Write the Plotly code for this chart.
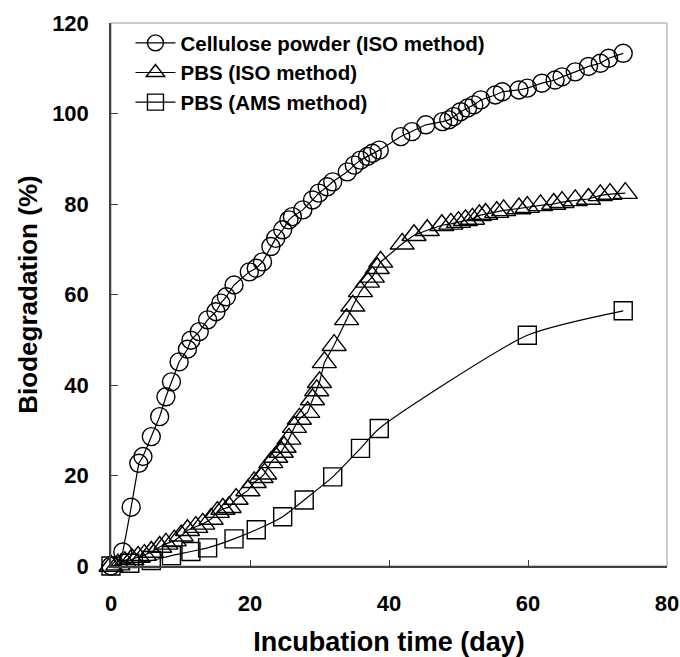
import plotly.graph_objects as go

# Cellulose powder (ISO method)
cel_x = [0, 1.7, 2.9, 4.0, 4.6, 5.8, 7.0, 7.9, 8.7, 9.8, 11.0, 11.5, 12.7, 13.9, 15.1, 15.8, 16.6, 17.7,
         19.9, 20.9, 21.8, 23.0, 23.7, 24.7, 25.6, 26.1, 27.6, 29.0, 29.9, 31.1, 31.9, 34.0, 35.0, 35.9,
         36.9, 37.6, 38.6, 41.7, 43.3, 45.3, 47.7, 48.6, 49.3, 50.3, 51.3, 52.2, 53.2, 55.3, 56.3, 58.7,
         59.9, 62.0, 63.9, 64.9, 66.8, 68.7, 70.4, 71.6, 73.7]
cel_y = [0, 3.1, 13.0, 22.7, 24.2, 28.6, 33.0, 37.4, 40.7, 45.1, 47.9, 49.9, 51.8, 54.4, 56.2, 58.1, 59.5, 62.1,
         65.0, 65.8, 67.2, 70.6, 72.4, 74.3, 76.5, 77.2, 78.7, 80.9, 82.4, 83.8, 84.9, 87.1, 88.6, 89.7,
         90.5, 91.2, 91.9, 94.9, 96.0, 97.5, 98.2, 98.6, 99.3, 100.4, 101.2, 101.9, 103.0, 104.1, 104.8, 105.2,
         105.6, 106.7, 107.4, 108.1, 109.2, 110.4, 111.1, 112.2, 113.3]

# PBS (ISO method)
iso_x = [0, 1.0, 2.0, 3.0, 3.9, 4.8, 5.8, 7.0, 7.9, 9.1, 10.1, 11.0, 12.2, 13.2, 14.4, 15.3, 16.1, 17.0,
         18.0, 19.7, 20.6, 21.6, 22.1, 23.0, 23.7, 24.5, 24.9, 25.6, 26.4, 27.1, 28.3, 29.0, 29.6, 30.0,
         30.7, 32.1, 33.9, 34.8, 35.9, 36.9, 37.6, 38.3, 38.8, 41.9, 43.6, 45.5, 47.6, 48.9, 50.0, 51.0,
         52.0, 53.0, 53.9, 55.5, 56.5, 58.7, 59.9, 61.8, 63.7, 64.9, 66.8, 68.7, 70.4, 71.8, 74.0]
iso_y = [0, 0.3, 0.8, 1.5, 2.0, 2.4, 3.1, 4.2, 4.9, 5.6, 6.7, 7.9, 8.6, 9.3, 10.4, 11.9, 12.6, 13.0,
         14.8, 16.7, 18.5, 19.6, 20.4, 22.9, 24.1, 25.2, 26.3, 28.1, 30.7, 32.5, 34.0, 36.8, 38.8, 40.6,
         45.0, 48.8, 54.5, 57.5, 60.7, 62.8, 63.9, 65.8, 67.2, 71.2, 73.1, 74.2, 75.3, 75.6, 76.0, 76.4,
         76.7, 77.5, 77.8, 78.2, 78.6, 79.0, 79.3, 79.7, 80.0, 80.4, 80.8, 81.1, 81.9, 82.2, 82.4]

# PBS (AMS method)
ams_x = [0, 2.7, 5.8, 8.7, 11.5, 13.9, 17.7, 20.9, 24.7, 27.8, 31.9, 35.9, 38.6, 59.9, 73.7]
ams_y = [0, 0.6, 1.2, 2.3, 3.2, 4.0, 6.0, 8.0, 10.9, 14.6, 19.7, 26.0, 30.4, 51.0, 56.4]

x_ticks = [0, 20, 40, 60, 80]
y_ticks = [0, 20, 40, 60, 80, 100, 120]

FONT = "Arial, Liberation Sans, sans-serif"

fig = go.Figure()

def add(x, y, name, symbol, size, shape="linear"):
    fig.add_trace(go.Scatter(
        x=x, y=y, name=name, mode="lines+markers", cliponaxis=False,
        line=dict(color="black", width=1.2, shape=shape, smoothing=0.6 if shape == "spline" else None),
        marker=dict(symbol=symbol, size=size, color="black",
                    line=dict(color="black", width=1.4)),
    ))

add(cel_x, cel_y, "Cellulose powder (ISO method)", "circle-open", 18)
add(iso_x, iso_y, "PBS (ISO method)", "triangle-up-open", 21)
add(ams_x, ams_y, "PBS (AMS method)", "square-open", 18, shape="spline")

fig.update_layout(
    width=680, height=657,
    margin=dict(l=111, r=13, t=23, b=91, autoexpand=False),
    plot_bgcolor="white", paper_bgcolor="white",
    font=dict(family=FONT, color="black"),
    showlegend=True,
    legend=dict(x=0.035, y=1.0, xanchor="left", yanchor="top",
                bgcolor="rgba(0,0,0,0)", borderwidth=0,
                font=dict(family=FONT, size=20.5, color="black", weight="bold"),
                tracegroupgap=0, itemwidth=40),
    shapes=[dict(type="rect", xref="paper", yref="paper", x0=0, x1=1, y0=0, y1=1,
                 line=dict(color="#999999", width=1), layer="below")],
)

fig.update_xaxes(
    range=[0, 80], tickvals=x_ticks, ticktext=[str(v) for v in x_ticks],
    showgrid=False, zeroline=False, showline=True, linecolor="#404040", linewidth=2,
    ticks="inside", ticklen=6, tickcolor="#404040", tickwidth=1,
    ticklabelstandoff=17, automargin=False,
    tickfont=dict(family=FONT, size=22, color="black", weight="bold"),
    title=dict(text="Incubation time (day)", standoff=19,
               font=dict(family=FONT, size=27, color="black", weight="bold")),
)
fig.update_yaxes(
    range=[0, 120], tickvals=y_ticks, ticktext=[str(v) for v in y_ticks],
    showgrid=False, zeroline=False, showline=True, linecolor="#404040", linewidth=1.5,
    ticks="inside", ticklen=7, tickcolor="#404040", tickwidth=1,
    ticklabelstandoff=16, automargin=False,
    tickfont=dict(family=FONT, size=22, color="black", weight="bold"),
    title=dict(text="Biodegradation (%)", standoff=7,
               font=dict(family=FONT, size=26, color="black", weight="bold")),
)

fig.write_html(
    "out.html",
    config={"displayModeBar": False},
    post_script="document.body.style.margin='0';document.body.style.overflow='hidden';",
)
